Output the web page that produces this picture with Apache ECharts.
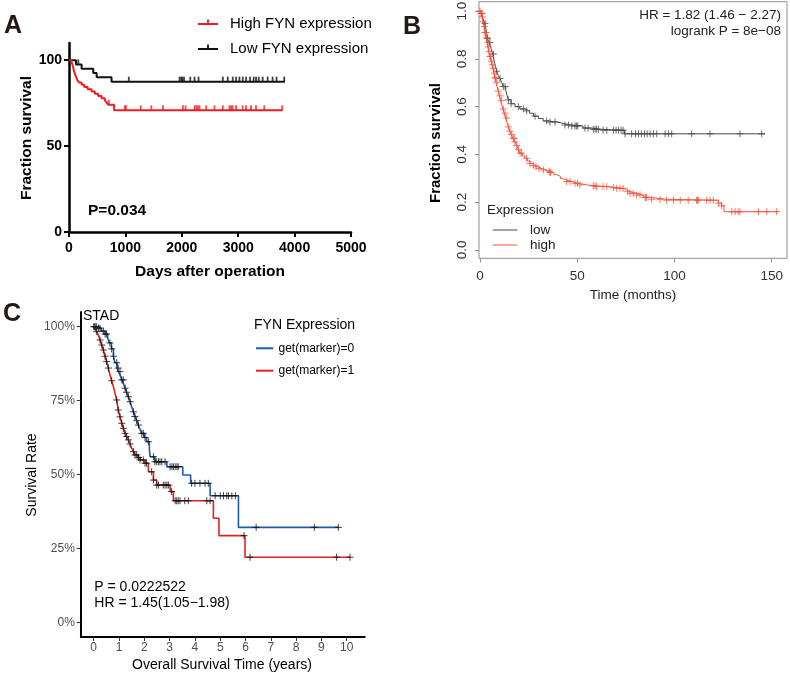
<!DOCTYPE html>
<html><head><meta charset="utf-8">
<script src="https://cdn.jsdelivr.net/npm/echarts@6/dist/echarts.min.js"></script>
<style>html,body{margin:0;padding:0;background:#fff}#c{width:790px;height:674px}</style>
</head><body><div id="c"></div>
<script>
// ---------------- Panel A (days, percent) ----------------
const aTickX = [0, 1000, 2000, 3000, 4000, 5000];
const aTickY = [0, 50, 100];
const aHighTime = [0,45,62,72,80,90,105,118,135,150,182,224,270,330,401,459,518,578,636,670,694,800,3787];
const aHighSurv = [100,98.7,97.4,96.1,94.8,93.5,92.2,90.9,89.6,88.3,87.0,85.7,84.4,83.1,81.8,80.5,79.2,77.9,76.6,75.3,74.0,70.8,70.8];
const aHighCensor = [707,990,1010,1272,1460,1667,2020,2067,2226,2256,2285,2315,2433,2580,2727,2845,2875,2903,2962,3080,3139,3227,3316,3463,3780];
const aLowTime = [0,124,224,430,490,754,3828];
const aLowSurv = [100,97.5,95.0,92.5,90.0,87.5,87.5];
const aLowCensor = [165,1060,1960,1990,2010,2040,2150,2226,2297,2727,2815,2903,2962,3021,3080,3139,3210,3274,3316,3363,3434,3522,3610,3680,3816];

// ---------------- Panel B (months, fraction) ----------------
const bTickX = [0, 50, 100, 150];
const bTickY = [0, 0.2, 0.4, 0.6, 0.8, 1.0];
const bLowTime = [0,0.6,1.2,1.8,2.5,3.2,3.8,4.8,5.6,6.5,7.2,7.9,8.6,9.4,10.3,11.2,12.0,13.2,13.9,14.6,16.0,18.0,20.5,23.0,25.5,27.5,30.0,32.5,35.0,40.0,43.5,47.0,53.0,57.5,62.0,74.3,146.6];
const bLowSurv = [1.0,0.99,0.975,0.962,0.948,0.92,0.885,0.868,0.845,0.82,0.795,0.77,0.748,0.73,0.718,0.70,0.684,0.67,0.648,0.628,0.612,0.60,0.59,0.582,0.572,0.56,0.55,0.54,0.535,0.528,0.523,0.519,0.51,0.505,0.501,0.486,0.486];
const bLowCensor = [0.9,2.6,3.9,5.1,6.9,8.6,10.3,12.0,12.9,14.6,16.0,19.7,22.3,24.0,28.3,34.3,36.0,38.6,43.7,45.5,47.2,48.9,49.7,50.3,54.0,55.6,58.3,59.2,60.0,60.9,63.3,65.2,68.6,70.0,71.2,72.6,73.6,74.6,78.0,80.0,81.5,83.0,84.6,86.0,87.5,89.2,90.9,95.2,96.9,98.6,108.9,118.3,133.7,144.9];
const bHighTime = [0,0.5,1.0,1.5,2.0,2.6,3.1,3.5,4.0,4.5,5.1,5.6,6.1,6.6,7.2,7.7,8.3,8.8,9.4,10.0,10.6,11.2,11.8,12.5,13.2,13.9,14.6,15.3,16.0,17.0,18.0,18.9,19.8,20.6,21.8,23.0,24.4,25.7,27.0,28.3,30.0,31.7,34.0,36.0,38.0,39.5,41.5,43.0,44.6,47.5,50.5,55.0,60.0,66.0,70.3,73.7,75.5,77.2,80.6,84.0,87.4,96.0,122.6,124.3,125.5,153.5];
const bHighSurv = [1.0,0.99,0.975,0.955,0.935,0.91,0.89,0.87,0.85,0.83,0.81,0.79,0.775,0.76,0.74,0.72,0.70,0.685,0.665,0.645,0.625,0.607,0.59,0.572,0.552,0.532,0.515,0.497,0.483,0.467,0.452,0.437,0.42,0.405,0.394,0.384,0.372,0.362,0.354,0.348,0.341,0.335,0.329,0.324,0.315,0.307,0.298,0.292,0.286,0.279,0.272,0.268,0.265,0.261,0.258,0.251,0.244,0.237,0.230,0.220,0.212,0.208,0.196,0.185,0.160,0.160];
const bHighCensor = [0.0,0.5,0.9,1.3,1.7,2.2,2.6,3.0,3.4,3.9,4.3,4.7,5.1,5.5,6.0,6.4,6.9,7.3,7.7,8.2,8.6,9.4,10.3,11.1,12.0,12.9,13.7,14.6,15.4,16.3,17.1,17.6,18.0,18.9,19.8,20.6,21.4,24.0,25.7,27.4,28.8,30.3,32.6,35.6,36.0,36.4,44.6,46.3,48.9,50.2,51.4,58.3,59.2,60.0,63.3,65.2,68.6,70.3,72.0,73.6,76.0,77.2,78.8,80.6,82.3,84.9,85.3,85.7,88.3,92.6,96.0,99.5,103.0,107.1,111.4,111.9,112.3,116.6,118.3,120.0,122.6,124.3,129.5,131.2,132.8,133.7,143.2,147.5,152.6];

// ---------------- Panel C (years, fraction) ----------------
const cTickX = [0,1,2,3,4,5,6,7,8,9,10];
const cTickY = [0, 0.25, 0.5, 0.75, 1.0];
const cLowTime = [0,0.15,0.3,0.45,0.55,0.62,0.7,0.78,0.84,0.92,0.98,1.05,1.11,1.18,1.24,1.3,1.37,1.44,1.5,1.57,1.63,1.7,1.76,1.83,1.9,2.0,2.09,2.2,2.23,2.42,2.89,3.52,3.83,4.60,5.72,9.67];
const cLowSurv = [1.0,0.995,0.985,0.975,0.962,0.945,0.925,0.9,0.878,0.86,0.848,0.835,0.82,0.806,0.792,0.778,0.763,0.746,0.729,0.712,0.696,0.682,0.667,0.653,0.639,0.625,0.611,0.585,0.56,0.543,0.526,0.498,0.470,0.428,0.321,0.321];
const cLowCensor = [0.05,0.12,0.19,0.25,0.38,0.45,0.51,0.64,0.71,0.78,0.91,0.97,1.04,1.11,1.17,1.24,1.30,1.37,1.44,1.57,1.63,1.70,1.77,1.90,1.96,2.03,2.16,2.36,2.42,2.49,2.56,2.62,2.69,2.82,3.02,3.09,3.15,3.22,3.29,3.34,3.87,4.00,4.20,4.40,4.53,4.80,5.00,5.13,5.26,5.33,5.46,5.60,6.42,8.72,9.67];
const cHighTime = [0,0.06,0.12,0.19,0.25,0.32,0.38,0.45,0.51,0.58,0.64,0.71,0.78,0.84,0.91,0.97,1.04,1.11,1.17,1.24,1.3,1.37,1.44,1.5,1.57,1.63,1.73,1.83,2.03,2.16,2.36,2.49,3.02,3.15,4.73,4.95,5.98,10.13];
const cHighSurv = [1.0,0.99,0.983,0.97,0.955,0.938,0.921,0.9,0.882,0.86,0.837,0.817,0.797,0.775,0.752,0.718,0.695,0.673,0.656,0.639,0.628,0.617,0.603,0.589,0.577,0.566,0.557,0.549,0.538,0.509,0.481,0.464,0.442,0.411,0.352,0.293,0.220,0.220];
const cHighCensor = [0.0,0.05,0.12,0.25,0.32,0.38,0.45,0.51,0.58,0.71,0.91,0.97,1.04,1.11,1.17,1.24,1.30,1.37,1.44,1.57,1.63,1.70,1.77,1.83,1.96,2.03,2.09,2.29,2.36,2.49,2.56,2.75,2.82,2.89,2.95,3.08,3.22,3.28,3.34,3.41,3.60,3.74,4.47,4.60,5.94,6.18,9.60,10.13];

const FONT = '"Liberation Sans", Arial, Helvetica, sans-serif';
const PLUS = 'path://M0,5L10,5M5,0L5,10';

function survAt(times, surv, t) {
  let v = surv[0];
  for (let i = 0; i < times.length; i++) { if (times[i] <= t) v = surv[i]; else break; }
  return v;
}
function curve(times, surv) { return times.map((t, i) => [t, surv[i]]); }
function censor(times, surv, cens) { return cens.map(t => [t, survAt(times, surv, t)]); }

function kmLine(gi, times, surv, color, width, z) {
  return { type: 'line', xAxisIndex: gi, yAxisIndex: gi, step: 'end', data: curve(times, surv),
    symbol: 'none', showSymbol: false, silent: true, z: z || 2,
    lineStyle: { color: color, width: width } };
}
function plusMarks(gi, times, surv, cens, color, size) {
  return { type: 'scatter', xAxisIndex: gi, yAxisIndex: gi, data: censor(times, surv, cens),
    symbol: PLUS, symbolSize: size, silent: true, z: 4,
    itemStyle: { color: 'none', borderColor: color, borderWidth: 1 } };
}
function tickMarks(gi, times, surv, cens, color) {
  return { type: 'scatter', xAxisIndex: gi, yAxisIndex: gi, data: censor(times, surv, cens),
    symbol: 'rect', symbolSize: [1.8, 5], symbolOffset: [0, -2.5], silent: true, z: 4,
    itemStyle: { color: color } };
}

const txt = (x, y, text, size, opts) => Object.assign({
  type: 'text', x: x, y: y, silent: true,
  style: Object.assign({ text: text, fontSize: size, fontFamily: FONT, fill: '#000',
    textAlign: 'left', textVerticalAlign: 'middle' }, (opts && opts.style) || {})
}, (opts && opts.el) || {});
const seg = (x1, y1, x2, y2, color, w) => ({ type: 'line', silent: true,
  shape: { x1: x1, y1: y1, x2: x2, y2: y2 }, style: { stroke: color, lineWidth: w } });

const RED_A = '#ee1d23', BLK_A = '#111111';
const RED_B = '#f2553f', BLK_B = '#4a4a4a';
const BLUE_C = '#1c5ab4', RED_C = '#e3221f';

const chart = echarts.init(document.getElementById('c'), null, { renderer: 'canvas' });
chart.setOption({
  animation: false,
  backgroundColor: '#ffffff',
  grid: [
    { left: 69, top: 43, width: 282, height: 189, outerBoundsMode: 'none' },
    { left: 479, top: 1.7, width: 308, height: 256.6, show: true, borderColor: '#8f8f8f', borderWidth: 1, backgroundColor: 'transparent', outerBoundsMode: 'none' },
    { left: 80.8, top: 311.9, width: 283.9, height: 325.1, outerBoundsMode: 'none' }
  ],
  xAxis: [
    { gridIndex: 0, type: 'value', min: 0, max: 5000, interval: 1000,
      axisLine: { show: true, onZero: false, lineStyle: { color: '#000', width: 2.5 } },
      axisTick: { show: true, length: 5, lineStyle: { color: '#000', width: 2 } },
      axisLabel: { margin: 9, fontSize: 14, fontWeight: 'bold', color: '#000', fontFamily: FONT,
        formatter: v => String(v) },
      splitLine: { show: false } },
    { gridIndex: 1, type: 'value', min: -0.5, max: 157.9,
      axisLine: { show: false, onZero: false },
      axisTick: { show: true, customValues: bTickX, length: 4, lineStyle: { color: '#8f8f8f', width: 1 } },
      axisLabel: { customValues: bTickX, margin: 11, fontSize: 13.5, color: '#333', fontFamily: FONT,
        formatter: v => String(v) },
      splitLine: { show: false } },
    { gridIndex: 2, type: 'value', min: -0.51, max: 10.71,
      axisLine: { show: true, onZero: false, lineStyle: { color: '#000', width: 2 } },
      axisTick: { show: true, customValues: cTickX, length: 4, lineStyle: { color: '#333', width: 1 } },
      axisLabel: { customValues: cTickX, margin: 5, fontSize: 12, color: '#4d4d4d', fontFamily: FONT,
        formatter: v => String(v) },
      splitLine: { show: false } }
  ],
  yAxis: [
    { gridIndex: 0, type: 'value', min: 0, max: 110,
      axisLine: { show: true, onZero: false, lineStyle: { color: '#000', width: 2.5 } },
      axisTick: { show: true, customValues: aTickY, length: 5, lineStyle: { color: '#000', width: 2 } },
      axisLabel: { customValues: aTickY, margin: 7, fontSize: 14, fontWeight: 'bold', color: '#000', fontFamily: FONT },
      splitLine: { show: false } },
    { gridIndex: 1, type: 'value', min: -0.035, max: 1.039,
      axisLine: { show: false, onZero: false },
      axisTick: { show: true, customValues: bTickY, length: 4, lineStyle: { color: '#8f8f8f', width: 1 } },
      axisLabel: { customValues: bTickY, rotate: 90, margin: 10, fontSize: 13.5, color: '#333', fontFamily: FONT,
        formatter: v => Number(v).toFixed(1) },
      splitLine: { show: false } },
    { gridIndex: 2, type: 'value', min: -0.05, max: 1.05,
      axisLine: { show: true, onZero: false, lineStyle: { color: '#000', width: 2 } },
      axisTick: { show: true, customValues: cTickY, length: 4, lineStyle: { color: '#333', width: 1 } },
      axisLabel: { customValues: cTickY, margin: 6, fontSize: 12, color: '#4d4d4d', fontFamily: FONT,
        formatter: v => Math.round(v * 100) + '%' },
      splitLine: { show: false } }
  ],
  series: [
    kmLine(0, aLowTime, aLowSurv, BLK_A, 2),
    kmLine(0, aHighTime, aHighSurv, RED_A, 2),
    tickMarks(0, aLowTime, aLowSurv, aLowCensor, BLK_A),
    tickMarks(0, aHighTime, aHighSurv, aHighCensor, RED_A),

    kmLine(1, bLowTime, bLowSurv, BLK_B, 1),
    kmLine(1, bHighTime, bHighSurv, RED_B, 1),
    plusMarks(1, bLowTime, bLowSurv, bLowCensor, BLK_B, 7),
    plusMarks(1, bHighTime, bHighSurv, bHighCensor, RED_B, 7),

    kmLine(2, cLowTime, cLowSurv, BLUE_C, 1.6),
    kmLine(2, cHighTime, cHighSurv, RED_C, 1.6),
    plusMarks(2, cLowTime, cLowSurv, cLowCensor, '#111', 7),
    plusMarks(2, cHighTime, cHighSurv, cHighCensor, '#111', 7)
  ],
  graphic: [
    // Panel A
    txt(4, 26, 'A', 25, { style: { fontWeight: 'bold', fill: '#231815' } }),
    seg(198, 24, 218, 24, RED_A, 2), seg(208, 24, 208, 19.5, RED_A, 1.8),
    txt(230, 24, 'High FYN expression', 15),
    seg(198, 49, 218, 49, BLK_A, 2), seg(208, 49, 208, 44.5, BLK_A, 1.8),
    txt(230, 49, 'Low FYN expression', 15),
    txt(88, 211, 'P=0.034', 15.5, { style: { fontWeight: 'bold' } }),
    txt(210, 272, 'Days after operation', 15.5, { style: { fontWeight: 'bold', textAlign: 'center' } }),
    txt(27, 138, 'Fraction survival', 15.5, { style: { fontWeight: 'bold', textAlign: 'center' }, el: { rotation: Math.PI / 2 } }),

    // Panel B
    txt(403, 27, 'B', 25, { style: { fontWeight: 'bold', fill: '#231815' } }),
    txt(781, 15, 'HR = 1.82 (1.46 \u2212 2.27)', 13.5, { style: { textAlign: 'right', fill: '#222' } }),
    txt(781, 31.7, 'logrank P = 8e\u221208', 13.5, { style: { textAlign: 'right', fill: '#222' } }),
    txt(487, 210, 'Expression', 13.5, { style: { fill: '#222' } }),
    seg(492.7, 230, 517.3, 230, BLK_B, 1), txt(530, 230, 'low', 13.5, { style: { fill: '#222' } }),
    seg(492.7, 245, 517.3, 245, RED_B, 1), txt(530, 245, 'high', 13.5, { style: { fill: '#222' } }),
    txt(633, 295, 'Time (months)', 13.5, { style: { textAlign: 'center', fill: '#222' } }),
    txt(435.5, 143, 'Fraction survival', 15, { style: { fontWeight: 'bold', textAlign: 'center' }, el: { rotation: Math.PI / 2 } }),

    // Panel C
    txt(3, 314, 'C', 25, { style: { fontWeight: 'bold', fill: '#231815' } }),
    txt(83, 316, 'STAD', 14),
    txt(254, 325, 'FYN Expression', 14),
    seg(256, 348.3, 273.3, 348.3, BLUE_C, 2), txt(278.5, 348.3, 'get(marker)=0', 12),
    seg(256, 370.7, 273.3, 370.7, RED_C, 2), txt(278.5, 370.7, 'get(marker)=1', 12),
    txt(94.3, 587.3, 'P = 0.0222522', 14),
    txt(94.3, 602.7, 'HR = 1.45(1.05\u22121.98)', 14),
    txt(222, 665, 'Overall Survival Time (years)', 14, { style: { textAlign: 'center' } }),
    txt(32.5, 475, 'Survival Rate', 14, { style: { textAlign: 'center' }, el: { rotation: Math.PI / 2 } })
  ]
});
</script>
</body></html>
